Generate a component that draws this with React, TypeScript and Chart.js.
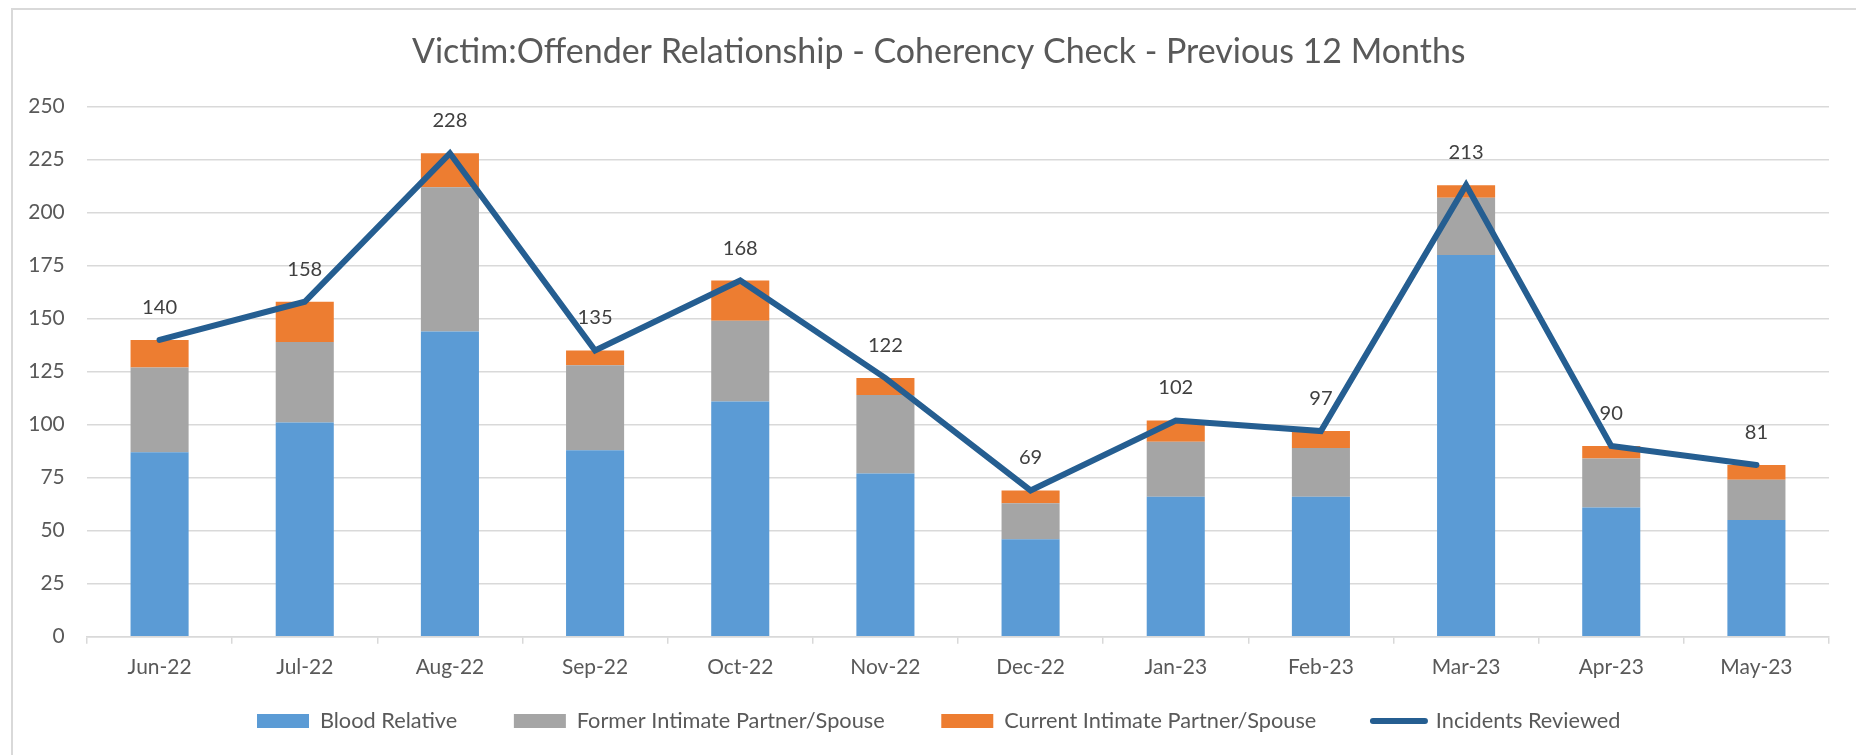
import React, { useEffect, useRef } from 'react';
import { Chart, registerables } from 'chart.js';

Chart.register(...registerables);

// ---------- data ----------
const categories = ['Jun-22', 'Jul-22', 'Aug-22', 'Sep-22', 'Oct-22', 'Nov-22', 'Dec-22', 'Jan-23', 'Feb-23', 'Mar-23', 'Apr-23', 'May-23'];
const bloodRelative = [87, 101, 144, 88, 111, 77, 46, 66, 66, 180, 61, 55];
const formerPartner = [40, 38, 68, 40, 38, 37, 17, 26, 23, 27, 23, 19];
const currentPartner = [13, 19, 16, 7, 19, 8, 6, 10, 8, 6, 6, 7];
const incidentsReviewed = [140, 158, 228, 135, 168, 122, 69, 102, 97, 213, 90, 81];
const seriesNames = ['Blood Relative', 'Former Intimate Partner/Spouse', 'Current Intimate Partner/Spouse', 'Incidents Reviewed'];
const titleText = 'Victim:Offender Relationship - Coherency Check - Previous 12 Months';
const yMin = 0;
const yMax = 250;
const yStep = 25;

// ---------- helpers ----------
const FAMILY = 'Lato';

function measure(text: string, family: string, size: number): number {
  const c = document.createElement('canvas').getContext('2d')!;
  c.font = `${size}px ${family}`;
  return c.measureText(text).width;
}

function fitSize(text: string, family: string, target: number): number {
  return (100 * target) / measure(text, family, 100);
}

export default function App() {
  const ref = useRef<HTMLCanvasElement>(null);

  useEffect(() => {
    const family = FAMILY;
    const titleSize = fitSize(titleText, family, 1054);
    const tickSize = fitSize('Jun-22', family, 64);
    const legendSize = fitSize(seriesNames[0], family, 137.5);
    const labelSize = fitSize('228', family, 35);

    // layout targets (canvas coordinates; canvas sits at page x=13, y=10)
    const canvasH = 745;
    const plotTop = 96.7;
    const plotBottom = 626.7;
    const titleCenter = 42.5;
    const legendCenter = 711;
    const legendSpan = 1363.5;
    const legendBoxW = 52;
    const xLabelCenterOffset = 31;
    const tickLen = 7;
    const padLeft = 35.5;
    const padRight = 27;
    const yAxisWidth = 38.5;
    const yTickPad = 22.3;

    const textSum = seriesNames.reduce((s, t) => s + measure(t, family, legendSize), 0);
    const legendPad = (legendSpan - 4 * (legendBoxW + legendSize / 2) - textSum) / 3;

    const titlePadTop = titleCenter - 0.6 * titleSize;
    const titlePadBottom = plotTop - titlePadTop - 1.2 * titleSize;
    const legendTop = legendCenter - legendPad - legendSize / 2;
    const xAxisHeight = legendTop - plotBottom;
    const xPad = xLabelCenterOffset - tickLen - 0.6 * tickSize;
    const bottomPad = canvasH - (legendCenter + legendSize / 2 + 10);

    // let axis labels draw outside their (deliberately tight) axis boxes
    const noLabelClip = {
      id: 'noLabelClip',
      beforeDraw(chart: any) {
        Object.values(chart.scales).forEach((s: any) => {
          s._computeLabelArea = () => undefined;
        });
      },
    };

    const valueLabels = {
      id: 'valueLabels',
      afterDatasetsDraw(chart: any) {
        const meta = chart.getDatasetMeta(3);
        const ctx = chart.ctx;
        ctx.save();
        ctx.font = `${labelSize}px ${family}`;
        ctx.fillStyle = '#404040';
        ctx.textAlign = 'center';
        ctx.textBaseline = 'middle';
        meta.data.forEach((pt: any, i: number) => {
          ctx.fillText(String(incidentsReviewed[i]), pt.x, pt.y - 32.5);
        });
        ctx.restore();
      },
    };

    const barCommon = { stack: 'bars', order: 1, barPercentage: 0.4, categoryPercentage: 1, borderWidth: 0 };

    const chart = new Chart(ref.current!, {
      type: 'bar',
      data: {
        labels: categories,
        datasets: [
          { ...barCommon, label: seriesNames[0], data: bloodRelative, backgroundColor: '#5B9BD5' },
          { ...barCommon, label: seriesNames[1], data: formerPartner, backgroundColor: '#A5A5A5' },
          { ...barCommon, label: seriesNames[2], data: currentPartner, backgroundColor: '#ED7D31' },
          {
            type: 'line',
            label: seriesNames[3],
            data: incidentsReviewed,
            borderColor: '#255E91',
            backgroundColor: '#255E91',
            borderWidth: 6,
            pointRadius: 0,
            tension: 0,
            stack: 'line',
            order: 0,
            borderJoinStyle: 'miter',
            borderCapStyle: 'round',
          } as any,
        ],
      },
      options: {
        animation: false,
        responsive: false,
        devicePixelRatio: 1,
        layout: { padding: { left: padLeft, right: padRight, top: 0, bottom: bottomPad } },
        plugins: {
          title: {
            display: true,
            text: titleText,
            color: '#595959',
            font: { family, size: titleSize, weight: 'normal' as any },
            padding: { top: titlePadTop, bottom: titlePadBottom },
          },
          legend: {
            position: 'bottom',
            labels: {
              color: '#595959',
              font: { family, size: legendSize },
              padding: legendPad,
              usePointStyle: true,
              pointStyleWidth: legendBoxW,
              boxHeight: 14,
              sort: (a: any, b: any) => a.datasetIndex - b.datasetIndex,
              generateLabels: (ch: any) => {
                const items = Chart.defaults.plugins.legend.labels.generateLabels(ch);
                return items.map((it: any) => {
                  if (it.datasetIndex === 3) {
                    return { ...it, pointStyle: 'line', lineWidth: 6, strokeStyle: '#255E91', fillStyle: '#255E91', lineCap: 'round' };
                  }
                  return { ...it, pointStyle: 'rect', lineWidth: 0 };
                });
              },
            },
          },
          tooltip: { enabled: false },
        },
        scales: {
          x: {
            stacked: true,
            grid: { offset: true, drawOnChartArea: false, drawTicks: true, tickLength: tickLen, color: '#d9d9d9', lineWidth: 1.5 },
            border: { display: true, color: '#d9d9d9', width: 1.5 },
            ticks: { color: '#595959', font: { family, size: tickSize }, padding: xPad, maxRotation: 0, autoSkip: false },
            afterFit: (s: any) => {
              s.height = xAxisHeight;
            },
          },
          y: {
            stacked: true,
            min: yMin,
            max: yMax,
            ticks: { stepSize: yStep, color: '#595959', font: { family, size: tickSize }, padding: yTickPad },
            grid: { color: '#d9d9d9', lineWidth: 1.5, drawTicks: false },
            border: { display: false },
            afterFit: (s: any) => {
              s.width = yAxisWidth;
            },
          },
        },
      },
      plugins: [noLabelClip, valueLabels],
    });

    return () => chart.destroy();
  }, []);

  return (
    <div
      style={{
        position: 'fixed',
        left: 11,
        top: 8,
        width: 1845,
        height: 747,
        borderTop: '2px solid #d9d9d9',
        borderLeft: '2px solid #d9d9d9',
        boxSizing: 'border-box',
        background: '#fff',
      }}
    >
      <canvas ref={ref} width={1843} height={745} style={{ display: 'block', width: 1843, height: 745 }} />
    </div>
  );
}
